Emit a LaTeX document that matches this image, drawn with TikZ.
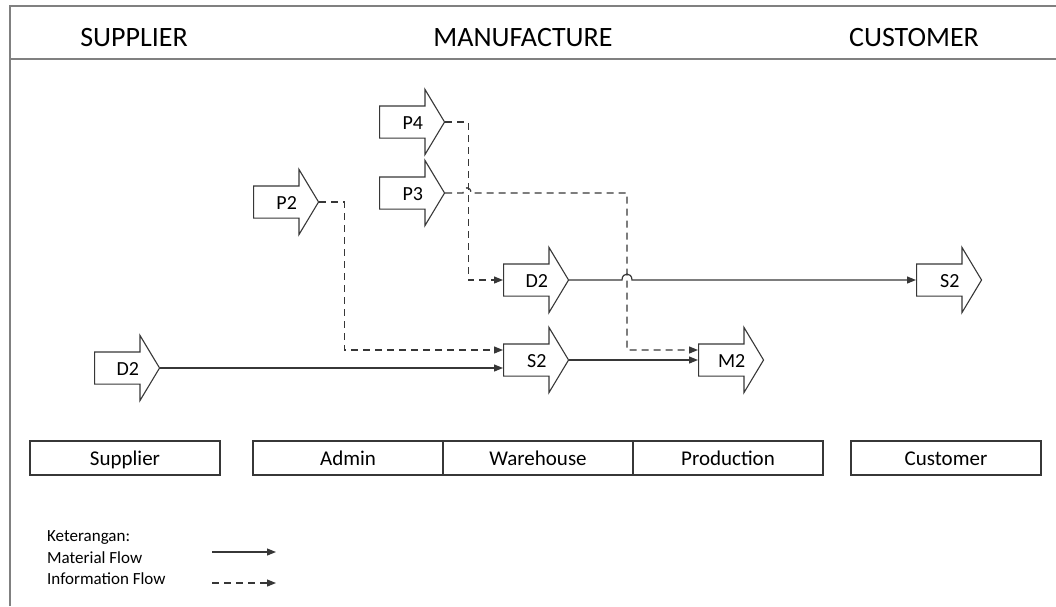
\documentclass[tikz,border=0pt]{standalone}
\usepackage{fontspec}
\setmainfont{Carlito}
\usetikzlibrary{arrows.meta,shapes.arrows,positioning,calc}
\definecolor{lgray}{RGB}{55,55,55}
\tikzset{
  % flow arrow node, label sits a bit towards the tip
  FA/.style={single arrow,draw=lgray,fill=white,line width=1.1pt,
             minimum height=65pt,single arrow head extend=16.5pt,
             single arrow tip angle=118,inner xsep=2pt,inner ysep=9.5pt,
             text height=9pt,text depth=3pt,anchor=tail,
             label={[font=\fontsize{20}{20}\selectfont,
                     xshift=5.5pt,yshift=-1pt]center:#1}},
  % location box
  LB/.style={rectangle,draw=lgray,line width=1.1pt,outer sep=0pt,
             minimum width=190pt,minimum height=34pt,inner sep=0pt,
             text height=16pt,text depth=2pt,
             font=\fontsize{21}{21}\selectfont},
  % header text
  HD/.style={font=\fontsize{28}{28}\selectfont,inner sep=0pt},
  % legend text
  LG/.style={font=\fontsize{17}{17}\selectfont,inner sep=0pt,anchor=west},
  % connectors
  Mat/.style={-{Triangle[length=9pt,width=7pt]},line width=1.2pt,draw=lgray},
  Inf/.style={Mat,dash pattern=on 7pt off 5pt},
  Frm/.style={draw=gray,line width=1.6pt},
}
\begin{document}
\begin{tikzpicture}[x=1pt,y=-1pt]
  \useasboundingbox (0,0) rectangle (1056,606);
  % frame and header
  \draw[Frm] (10,606) -- (10,6) -- (1056,6);
  \draw[Frm] (10,59) -- (1056,59);
  \node[HD] at (134,38) (hsup) {SUPPLIER};
  \node[HD] at (523,38) (hman) {MANUFACTURE};
  \node[HD] at (914,38) (hcus) {CUSTOMER};
  % flow arrows (placed by their tail)
  \node[FA=P4] at (379,122) (p4)  {};
  \node[FA=P3] at (379,193) (p3)  {};
  \node[FA=P2] at (253,202) (p2)  {};
  \node[FA=D2] at (503,280) (d2w) {};
  \node[FA=S2] at (503,360) (s2w) {};
  \node[FA=M2] at (698,360) (m2)  {};
  \node[FA=S2] at (916,280) (s2c) {};
  \node[FA=D2] at (94,368)  (d2s) {};
  % crossing points
  \coordinate (hopA) at (467,193);
  \coordinate (bendC) at (627,193);
  \coordinate (hopB) at (627,280);
  % material flow
  \draw[Mat] (d2s.tip) -- (d2s.tip -| s2w.tail);
  \draw[Mat] (s2w.tip) -- (m2.tail);
  \draw[Mat] (d2w.tip) -- ([xshift=-5pt]hopB)
    .. controls +(0,-8) and +(0,-8) .. ([xshift=5pt]hopB) -- (s2c.tail);
  % information flow
  \draw[Inf] (p2.tip) -- ++(25,0) |- ([yshift=10pt]s2w.tail);
  \draw[Inf] (p4.tip) -- ++(23,0) |- (d2w.tail);
  \draw[Inf] (p3.tip) -- ([xshift=-4pt]hopA)
    .. controls +(0,-7) and +(0,-7) .. ([xshift=4pt]hopA) -- (bendC)
    |- ([yshift=10pt]m2.tail);
  % location boxes
  \node[LB] at (125,458) (bsup) {Supplier};
  \node[LB] at (348,458) (badm) {Admin};
  \node[LB,right=0pt of badm] (bwar) {Warehouse};
  \node[LB,right=0pt of bwar] (bpro) {Production};
  \node[LB] at (946,458) (bcus) {Customer};
  % legend
  \node[LG] at (47,537) (lgk) {Keterangan:};
  \node[LG] at (47,558) (lgm) {Material Flow};
  \node[LG] at (47,579) (lgi) {Information Flow};
  \coordinate (m0) at (212,552);
  \coordinate (m1) at (276,552);
  \coordinate (i0) at (212,583);
  \coordinate (i1) at (276,583);
  \draw[Mat] (m0) -- (m1);
  \draw[Inf] (i0) -- (i1);
\end{tikzpicture}
\end{document}
